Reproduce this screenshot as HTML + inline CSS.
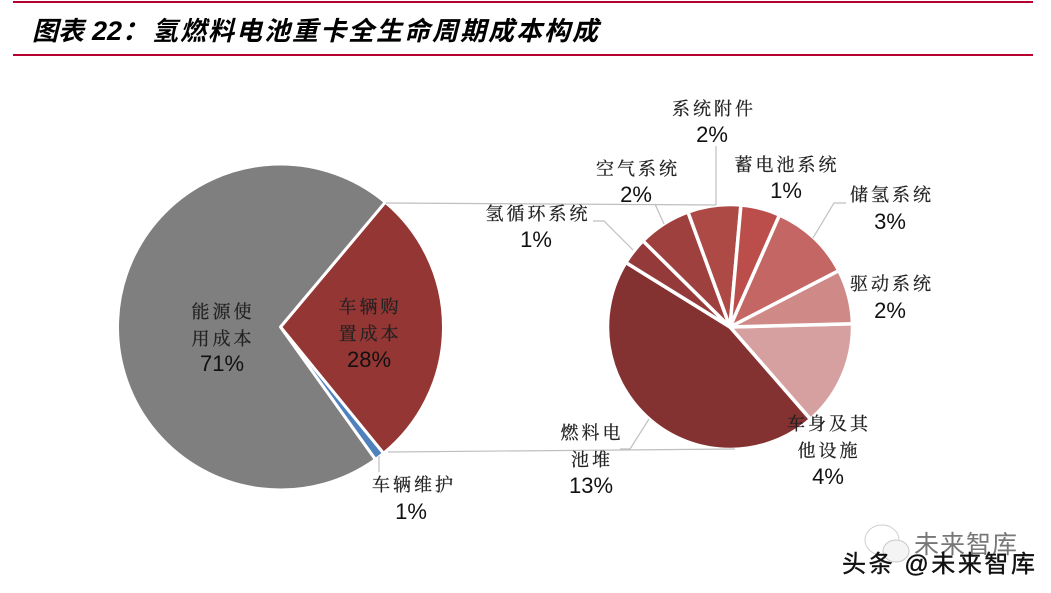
<!DOCTYPE html>
<html lang="zh">
<head>
<meta charset="utf-8">
<title>氢燃料电池重卡全生命周期成本构成</title>
<style>
html,body{margin:0;padding:0;background:#fff;width:1051px;height:593px;overflow:hidden}
svg{display:block}
.cn{font-family:"Liberation Serif","Noto Serif CJK SC",serif;font-size:18px;letter-spacing:3px;fill:#222;stroke:#222;stroke-width:.25;text-anchor:middle}
.pc{font-family:"Liberation Sans",sans-serif;font-size:22px;fill:#111;text-anchor:middle}
.leader{stroke:#bfbfbf;stroke-width:1.2;fill:none}
.ttl{font-family:'Liberation Sans','Noto Sans CJK SC',sans-serif;font-size:26px;font-weight:700;font-style:italic;fill:#000}
</style>
</head>
<body>
<svg id="chart" width="1051" height="593" viewBox="0 0 1051 593" xmlns="http://www.w3.org/2000/svg">
  <rect x="13" y="1" width="1020" height="2" fill="#b5002d"/>
  <rect x="13" y="54" width="1020" height="2" fill="#b5002d"/>
  <g>
    <text class="ttl" x="32" y="40" style="letter-spacing:0px">图表</text>
    <text class="ttl" x="92" y="40" style="font-size:27px">22：</text>
    <text class="ttl" x="152" y="40" style="letter-spacing:2px">氢燃料电池重卡全生命周期成本构成</text>
  </g>

  <g id="left-pie"></g>
  <g id="right-pie"></g>

  <g>
    <polyline class="leader" points="386,203 716,205"/>
    <polyline class="leader" points="388,452 735,449"/>
    <polyline class="leader" points="379,456 379,472"/>
    <polyline class="leader" points="649,419 630,449 620,449"/>
    <polyline class="leader" points="593,221 604,221 633,250"/>
    <polyline class="leader" points="655,204 664,224"/>
    <polyline class="leader" points="716,146 716,205"/>
    <polyline class="leader" points="813,238 834,203 846,203"/>
  </g>

  <g>
    <g><text class="cn" x="223" y="318">能源使</text><text class="cn" x="223" y="345">用成本</text><text class="pc" x="222" y="371">71%</text></g>
    <g><text class="cn" x="370" y="313">车辆购</text><text class="cn" x="370" y="340">置成本</text><text class="pc" x="369" y="367">28%</text></g>
    <g><text class="cn" x="414" y="491">车辆维护</text><text class="pc" x="411" y="519">1%</text></g>
    <g><text class="cn" x="592" y="439">燃料电</text><text class="cn" x="592" y="466">池堆</text><text class="pc" x="591" y="493">13%</text></g>
    <g><text class="cn" x="829" y="430">车身及其</text><text class="cn" x="829" y="457">他设施</text><text class="pc" x="828" y="484">4%</text></g>
    <g><text class="cn" x="892" y="290">驱动系统</text><text class="pc" x="890" y="318">2%</text></g>
    <g><text class="cn" x="892" y="201">储氢系统</text><text class="pc" x="890" y="229">3%</text></g>
    <g><text class="cn" x="787" y="171">蓄电池系统</text><text class="pc" x="786" y="198">1%</text></g>
    <g><text class="cn" x="714" y="115">系统附件</text><text class="pc" x="712" y="142">2%</text></g>
    <g><text class="cn" x="638" y="175">空气系统</text><text class="pc" x="636" y="202">2%</text></g>
    <g><text class="cn" x="538" y="220">氢循环系统</text><text class="pc" x="536" y="247">1%</text></g>
  </g>

  <g>
    <ellipse cx="882" cy="540" rx="17" ry="15" fill="#fff" stroke="#d0d0d0" stroke-width="1"/>
    <ellipse cx="896" cy="551" rx="13" ry="11" fill="#f4f4f4" stroke="#c8c8c8" stroke-width="1"/>
    <text x="914" y="553" style="font-family:'Liberation Sans','Noto Sans CJK SC',sans-serif;font-size:25px;fill:#777;letter-spacing:1px">未来智库</text>
    <text x="842" y="572" textLength="193" style="font-family:'Liberation Sans','Noto Sans CJK SC',sans-serif;font-size:24px;fill:#111;stroke:#111;stroke-width:0.4">头条 @未来智库</text>
  </g>
</svg>
<script>
const totalCategories = ['车辆购置成本', '车辆维护', '能源使用成本'];
const totalValues = [28, 1, 71];
const totalColors = ['#943634', '#4f81bd', '#7f7f7f'];

const vehicleCategories = ['车身及其他设施', '燃料电池堆', '氢循环系统', '空气系统', '系统附件', '蓄电池系统', '储氢系统', '驱动系统'];
const vehicleValues = [3.9, 12.6, 1.0, 1.95, 1.95, 1.45, 3.0, 2.0];
const vehicleColors = ['#d6a0a0', '#843131', '#953a3a', '#9e403d', '#ad4a46', '#bb4e4b', '#c46663', '#cf8a88'];

function drawPie(groupId, categories, values, colors, cx, cy, r, startDeg, gap) {
  const group = document.getElementById(groupId);
  const total = values.reduce(function (a, b) { return a + b; }, 0);
  let angle = startDeg;
  values.forEach(function (v, i) {
    const sweep = v / total * 360;
    const a0 = angle * Math.PI / 180;
    const a1 = (angle + sweep) * Math.PI / 180;
    const large = sweep > 180 ? 1 : 0;
    const d = 'M' + cx + ' ' + cy +
      'L' + (cx + r * Math.cos(a0)) + ' ' + (cy + r * Math.sin(a0)) +
      'A' + r + ' ' + r + ' 0 ' + large + ' 1 ' + (cx + r * Math.cos(a1)) + ' ' + (cy + r * Math.sin(a1)) + 'Z';
    const path = document.createElementNS('http://www.w3.org/2000/svg', 'path');
    path.setAttribute('d', d);
    path.setAttribute('fill', colors[i]);
    path.setAttribute('stroke', '#fff');
    path.setAttribute('stroke-width', gap);
    path.setAttribute('stroke-linejoin', 'round');
    
    
    group.appendChild(path);
    angle += sweep;
  });
}
drawPie('left-pie', totalCategories, totalValues, totalColors, 280.5, 327, 163, -50, 3);
drawPie('right-pie', vehicleCategories, vehicleValues, vehicleColors, 730, 327, 122.5, -1.5, 3.5);
</script>
</body>
</html>
